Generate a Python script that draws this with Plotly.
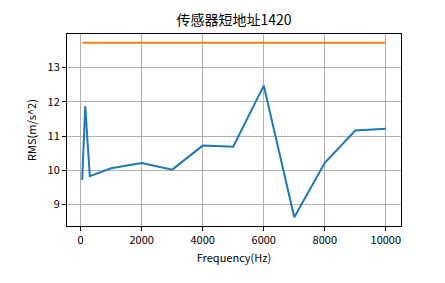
import plotly.graph_objects as go

freq = [50, 150, 300, 1000, 2000, 3000, 4000, 5000, 6000, 7000, 8000, 9000, 10000]
rms = [9.72, 11.87, 9.83, 10.06, 10.21, 10.02, 10.72, 10.69, 12.47, 8.63, 10.22, 11.16, 11.21]
limit_x = [50, 10000]
limit_y = [13.72, 13.72]

x_ticks = [0, 2000, 4000, 6000, 8000, 10000]
x_ticklabels = ["0", "2000", "4000", "6000", "8000", "10000"]
y_ticks = [9, 10, 11, 12, 13]
y_ticklabels = ["9", "10", "11", "12", "13"]

title = "传感器短地址1420"
xlabel = "Frequency(Hz)"
ylabel = "RMS(m/s^2)"

font = "Noto Sans CJK SC, sans-serif"

fig = go.Figure()
fig.add_trace(go.Scatter(x=freq, y=rms, mode="lines",
                         line=dict(color="#1f77b4", width=2), showlegend=False))
fig.add_trace(go.Scatter(x=limit_x, y=limit_y, mode="lines",
                         line=dict(color="#ff7f0e", width=2), showlegend=False))

xmin, xmax = min(freq), max(freq)
ymin = min(rms + limit_y); ymax = max(rms + limit_y)
xm = (xmax - xmin) * 0.05
ym = (ymax - ymin) * 0.05

axis_common = dict(showline=True, linecolor="black", linewidth=1, mirror=True,
                   ticks="outside", ticklen=4, tickcolor="black",
                   showgrid=True, gridcolor="#b0b0b0", gridwidth=1, zeroline=False,
                   tickfont=dict(family=font, size=11, color="black"))

fig.update_layout(
    width=445, height=283,
    margin=dict(l=67, r=44, t=34, b=57),
    paper_bgcolor="white", plot_bgcolor="white",
    title=dict(text=title, x=0.526, xanchor="center", y=0.93, yanchor="middle",
               font=dict(family=font, size=14, color="black")),
    xaxis=dict(range=[xmin - xm, xmax + xm], tickvals=x_ticks, ticktext=x_ticklabels,
               title=dict(text=xlabel, font=dict(family=font, size=11, color="black"), standoff=8),
               **axis_common),
    yaxis=dict(range=[ymin - ym, ymax + ym], tickvals=y_ticks, ticktext=y_ticklabels,
               title=dict(text=ylabel, font=dict(family=font, size=11, color="black"), standoff=8),
               **axis_common),
)

fig.write_html("out.html")
